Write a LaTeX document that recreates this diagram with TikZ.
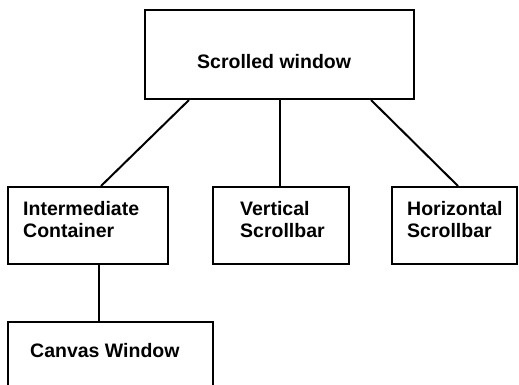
\documentclass[tikz,border=0pt]{standalone}
\usepackage{fontspec}
\setmainfont{Liberation Sans}
\usetikzlibrary{calc}
\begin{document}
\begin{tikzpicture}[x=1pt,y=-1pt,
  box/.style={draw,line width=2pt,inner sep=0pt,anchor=north west},
  lbl/.style={anchor=base west,inner sep=0pt,font=\fontsize{19.5}{22}\selectfont\bfseries,align=left},
  link/.style={line width=2pt}]
  \clip (0,0) rectangle (519,384);
  % boxes
  \node[box,minimum width=269pt,minimum height=89pt] (sw) at (144,9) {};
  \node[box,minimum width=160pt,minimum height=77pt] (ic) at (7,186) {};
  \node[box,minimum width=136pt,minimum height=77pt] (vs) at (212,186) {};
  \node[box,minimum width=125pt,minimum height=77pt] (hs) at (391,186) {};
  \node[box,minimum width=205pt,minimum height=80pt] (cw) at (7,321) {};
  % labels (base anchor sits on the last line)
  \node[lbl] (swt) at (197,68.5) {Scrolled window};
  \node[lbl] (ict) at (23,237) {Intermediate\\Container};
  \node[lbl] (vst) at (240,237) {Vertical\\Scrollbar};
  \node[lbl] (hst) at (407,237) {Horizontal\\Scrollbar};
  \node[lbl] (cwt) at (30,357) {Canvas Window};
  % connectors
  \draw[link] ([xshift=-90.5pt]sw.south) -- ([xshift=13pt]ic.north);
  \draw[link] (sw.south) -- (sw.south |- vs.north);
  \draw[link] ([xshift=91.5pt]sw.south) -- ([xshift=3.5pt]hs.north);
  \draw[link] ([xshift=11pt]ic.south) -- ([xshift=11pt]ic.south |- cw.north);
\end{tikzpicture}
\end{document}
